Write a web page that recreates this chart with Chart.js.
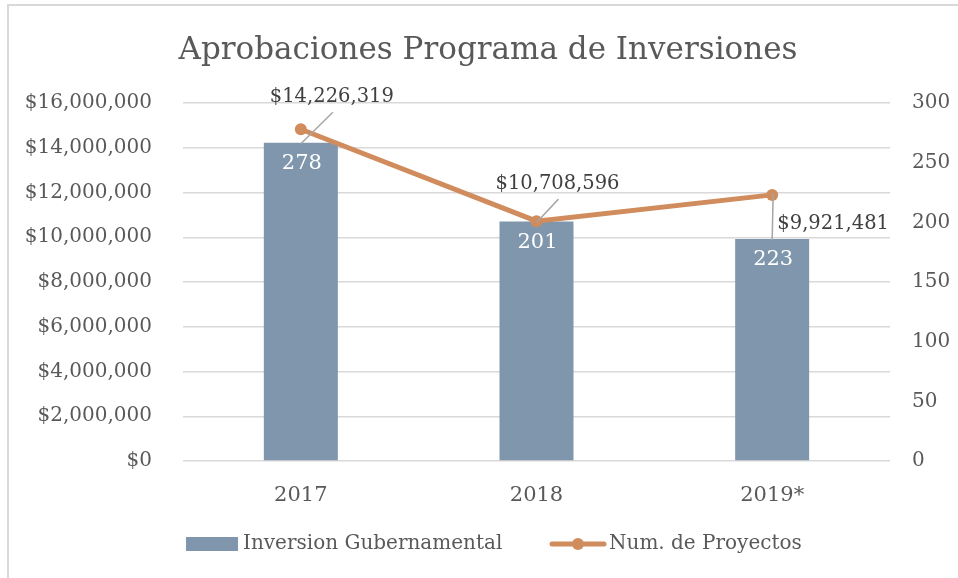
<!DOCTYPE html>
<html>
<head>
<meta charset="utf-8">
<script src="https://cdn.jsdelivr.net/npm/chart.js@4/dist/chart.umd.min.js"></script>
<style>
  html, body { margin: 0; padding: 0; background: #fff; }
  #frame {
    position: absolute; left: 7px; top: 4px; width: 951px; height: 574px;
    border-top: 2px solid #d9d9d9; border-left: 2px solid #d9d9d9;
  }
  #chartBox { position: absolute; left: 0; top: 0; width: 949px; height: 572px; }
</style>
</head>
<body>
<div id="frame"><div id="chartBox"><canvas id="chart"></canvas></div></div>
<script>
// data
const years = ['2017', '2018', '2019*'];
const inversion = [14226319, 10708596, 9921481];
const proyectos = [278, 201, 223];
const moneyTicks = [0, 2000000, 4000000, 6000000, 8000000, 10000000, 12000000, 14000000, 16000000];
const countTicks = [0, 50, 100, 150, 200, 250, 300];

const titleText = 'Aprobaciones Programa de Inversiones';
const barColor = '#7f96ad';
const lineColor = '#d08c5c';
const textColor = '#595959';
const serif = '"DejaVu Serif", "Liberation Serif", serif';

function money(v) {
  return '$' + Math.round(v).toLocaleString('en-US');
}

// label offsets (px) relative to line point, and leader line starts
const moneyLabelOffset = [[31, -32], [21, -37], [61, 29]];
const leaderStart = [[1, 15], [1, 15], [-60, -31]];

const labelsPlugin = {
  id: 'labels',
  afterDatasetsDraw(chart) {
    const ctx = chart.ctx;
    const bars = chart.getDatasetMeta(0).data;
    const pts = chart.getDatasetMeta(1).data;
    ctx.save();
    ctx.textAlign = 'center';
    ctx.textBaseline = 'middle';
    bars.forEach((bar, i) => {
      const pt = pts[i];
      const lx = pt.x + moneyLabelOffset[i][0];
      const ly = pt.y + moneyLabelOffset[i][1];
      // leader line to bar top
      ctx.strokeStyle = '#a6a6a6';
      ctx.lineWidth = 1.5;
      ctx.beginPath();
      ctx.moveTo(lx + leaderStart[i][0], ly + leaderStart[i][1]);
      ctx.lineTo(bar.x, bar.y + 1);
      ctx.stroke();
      ctx.font = '19.5px ' + serif;
      ctx.fillStyle = '#404040';
      ctx.fillText(money(inversion[i]), lx, ly);
      // count label inside bar
      ctx.fillStyle = '#ffffff';
      ctx.font = '21px ' + serif;
      ctx.fillText(String(proyectos[i]), bar.x + 1, bar.y + 21);
    });
    ctx.restore();
  },
  afterDraw(chart) {
    const ctx = chart.ctx;
    const ox = 9, oy = 6; // canvas offset in page
    ctx.save();
    // title
    ctx.fillStyle = textColor;
    ctx.textAlign = 'center';
    ctx.textBaseline = 'middle';
    ctx.font = '31px ' + serif;
    ctx.fillText(titleText, 488 - ox, 51 - oy);
    // legend
    ctx.textAlign = 'left';
    ctx.font = '20px ' + serif;
    ctx.fillStyle = barColor;
    ctx.fillRect(186 - ox, 537 - oy, 52, 14);
    ctx.fillStyle = textColor;
    ctx.fillText(chart.data.datasets[0].label, 243 - ox, 544 - oy);
    ctx.strokeStyle = lineColor;
    ctx.lineWidth = 5;
    ctx.lineCap = 'round';
    ctx.beginPath();
    ctx.moveTo(552 - ox, 544 - oy);
    ctx.lineTo(604 - ox, 544 - oy);
    ctx.stroke();
    ctx.fillStyle = lineColor;
    ctx.beginPath();
    ctx.arc(578 - ox, 544 - oy, 6, 0, Math.PI * 2);
    ctx.fill();
    ctx.fillStyle = textColor;
    ctx.fillText(chart.data.datasets[1].label, 609 - ox, 544 - oy);
    ctx.restore();
  }
};

new Chart(document.getElementById('chart'), {
  type: 'bar',
  data: {
    labels: years,
    datasets: [
      {
        type: 'bar',
        label: 'Inversion Gubernamental',
        data: inversion,
        backgroundColor: barColor,
        yAxisID: 'y',
        categoryPercentage: 1,
        barPercentage: 0.314,
        order: 2
      },
      {
        type: 'line',
        label: 'Num. de Proyectos',
        data: proyectos,
        borderColor: lineColor,
        backgroundColor: lineColor,
        borderWidth: 5,
        pointRadius: 6,
        pointBackgroundColor: lineColor,
        pointBorderWidth: 0,
        tension: 0,
        yAxisID: 'y1',
        order: 1
      }
    ]
  },
  options: {
    responsive: true,
    maintainAspectRatio: false,
    animation: false,
    layout: { padding: { top: 97, bottom: 47, left: 0, right: 0 } },
    plugins: {
      legend: { display: false },
      title: { display: false },
      tooltip: { enabled: false }
    },
    scales: {
      x: {
        grid: { display: false },
        border: { display: false },
        ticks: { color: textColor, font: { family: serif, size: 21 }, padding: 14 },
        afterFit(scale) { scale.height = 70; }
      },
      y: {
        position: 'left',
        min: 0,
        max: 16000000,
        afterBuildTicks(scale) { scale.ticks = moneyTicks.map(v => ({ value: v })); },
        grid: { color: '#d9d9d9', lineWidth: 1.5, drawTicks: false },
        border: { display: false },
        ticks: {
          color: textColor,
          font: { family: serif, size: 20 },
          padding: 31,
          callback: v => money(v)
        },
        afterFit(scale) { scale.width = 174; }
      },
      y1: {
        position: 'right',
        min: 0,
        max: 300,
        afterBuildTicks(scale) { scale.ticks = countTicks.map(v => ({ value: v })); },
        grid: { display: false, drawTicks: false },
        border: { display: false },
        ticks: { color: textColor, font: { family: serif, size: 20 }, padding: 22 },
        afterFit(scale) { scale.width = 68; }
      }
    }
  },
  plugins: [labelsPlugin]
});
</script>
</body>
</html>
